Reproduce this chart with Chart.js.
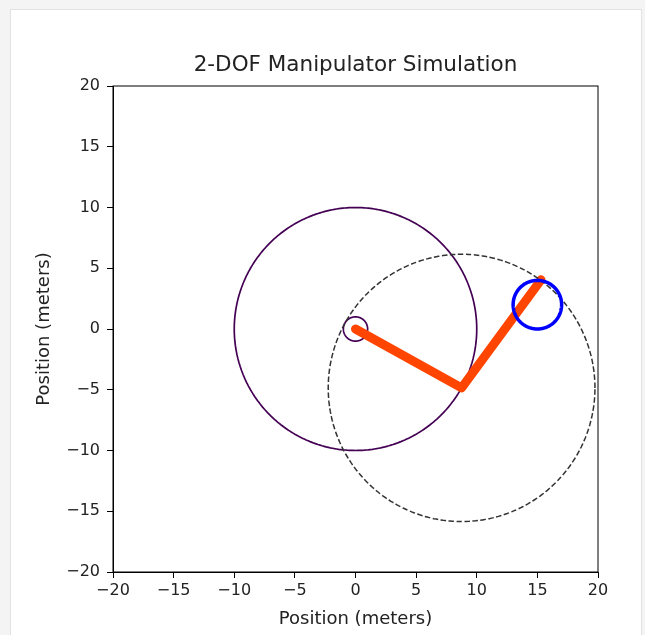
<!DOCTYPE html>
<html>
<head>
<meta charset="utf-8">
<script src="https://cdn.jsdelivr.net/npm/chart.js@4.4.1/dist/chart.umd.min.js"></script>
<style>
html, body { margin:0; padding:0; background:#f4f4f4; overflow:hidden; }
#card { position:absolute; left:10px; top:9px; width:632px; height:640px; background:#fff; border:1px solid #e2e2e2; box-sizing:border-box; }
#plot { position:absolute; left:0; top:0; }
</style>
</head>
<body>
<div id="card"></div>
<canvas id="plot" width="645" height="635"></canvas>
<script>
// arm joints: base, elbow, end effector
const jointX = [0, 8.75, 15.3];
const jointY = [0, -4.85, 4.05];

// circles: workspace, base marker, reach of link 2, target
const circleCX = [0, 0, 8.75, 15];
const circleCY = [0, 0, -4.85, 2];
const circleR  = [10, 1, 11, 2];

const axisTicks = [-20, -15, -10, -5, 0, 5, 10, 15, 20];

function circlePts(i) {
	var pts = [];
	for (var k = 0; k <= 180; k++) {
		var a = k * Math.PI * 2 / 180;
		pts.push({x: circleCX[i] + circleR[i] * Math.cos(a), y: circleCY[i] + circleR[i] * Math.sin(a)});
	}
	return pts;
}

const armPts = jointX.map((x, i) => ({x: x, y: jointY[i]}));

const minus = v => String(v).replace('-', '\u2212');
const setTicks = s => { s.ticks = axisTicks.map(v => ({value: v})); };

const frame = {
	id: 'frame',
	afterDraw(chart) {
		const a = chart.chartArea, c = chart.ctx;
		c.save();
		c.strokeStyle = '#000';
		c.lineWidth = 1;
		c.strokeRect(a.left, a.top, a.right - a.left, a.bottom - a.top);
		c.restore();
	}
};

const font = 'DejaVu Sans';

new Chart(document.getElementById('plot'), {
	type: 'scatter',
	data: {
		datasets: [
			{data: circlePts(0), borderColor: '#440154', borderWidth: 1.7, order: 4},
			{data: circlePts(1), borderColor: '#440154', borderWidth: 1.7, order: 3},
			{data: armPts, borderColor: '#ff4500', borderWidth: 9, borderCapStyle: 'round', borderJoinStyle: 'round', tension: 0, order: 2},
			{data: circlePts(2), borderColor: '#333', borderWidth: 1.5, borderDash: [5.5, 2.5], order: 1},
			{data: circlePts(3), borderColor: '#0000ff', borderWidth: 3.5, order: 0}
		].map(d => Object.assign({showLine: true, pointRadius: 0, fill: false, tension: 0.001}, d))
	},
	options: {
		responsive: false,
		animation: false,
		layout: {padding: {left: 0, right: 47, top: 0, bottom: 0}},
		plugins: {
			legend: {display: false},
			tooltip: {enabled: false},
			title: {
				display: true,
				fullSize: false,
				text: '2-DOF Manipulator Simulation',
				color: '#222',
				font: {family: font, size: 21.5, weight: 'normal'},
				padding: {top: 53, bottom: 7.2}
			}
		},
		scales: {
			x: {
				min: -20, max: 20,
				afterBuildTicks: setTicks,
				afterFit: s => { s.height = 63; },
				grid: {drawOnChartArea: false, tickLength: 6, tickColor: '#000'},
				border: {color: '#000'},
				ticks: {color: '#222', font: {family: font, size: 16}, padding: 3, maxRotation: 0, callback: minus},
				title: {display: true, text: 'Position (meters)', color: '#222', font: {family: font, size: 18}, padding: {top: 0, bottom: 5}}
			},
			y: {
				min: -20, max: 20,
				afterBuildTicks: setTicks,
				afterFit: s => { s.width = 113; },
				grid: {drawOnChartArea: false, tickLength: 6, tickColor: '#000'},
				border: {color: '#000'},
				ticks: {color: '#222', font: {family: font, size: 16}, padding: 7, callback: minus},
				title: {display: true, text: 'Position (meters)', color: '#222', font: {family: font, size: 18}, padding: {top: 34, bottom: 0}}
			}
		}
	},
	plugins: [frame]
});
</script>
</body>
</html>
